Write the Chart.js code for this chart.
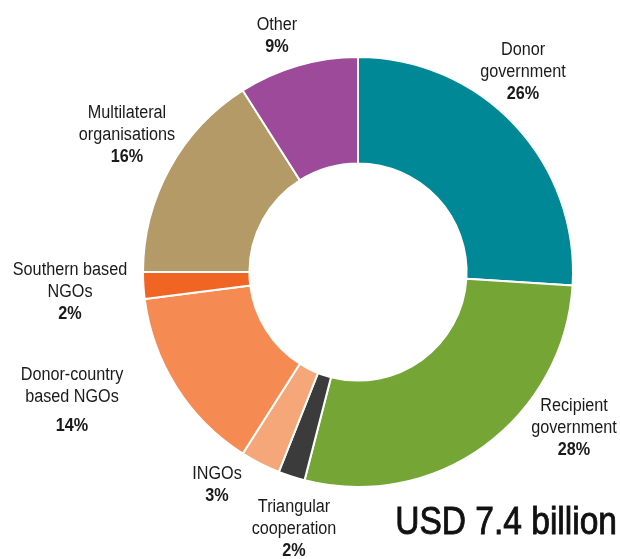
<!DOCTYPE html>
<html lang="en">
<head>
    <meta charset="UTF-8">
    <title>Funding by channel</title>
    <script src="https://cdn.jsdelivr.net/npm/chart.js"></script>
    <style>
        html, body { margin: 0; padding: 0; background: #fff; }
        #wrap { width: 620px; height: 559px; position: relative; }
    </style>
</head>
<body>
    <div id="wrap"><canvas id="chart"></canvas></div>

    <script>
        // channel shares, clockwise from 12 o'clock
        const channels = ['Donor government', 'Recipient government', 'Triangular cooperation', 'INGOs',
                          'Donor-country based NGOs', 'Southern based NGOs', 'Multilateral organisations', 'Other'];
        const shares = [26, 28, 2, 3, 14, 2, 16, 9];
        const labelLines = [['Donor', 'government'], ['Recipient', 'government'], ['Triangular', 'cooperation'], ['INGOs'],
                            ['Donor-country', 'based NGOs'], ['Southern based', 'NGOs'], ['Multilateral', 'organisations'], ['Other']];
        const totalText = 'USD 7.4 billion';

        const colours = ['#008896', '#74a535', '#3b3b3b', '#f6a77a', '#f58a53', '#f06524', '#b39a66', '#9c4a99'];
        const FONT = '"Liberation Sans", Arial, sans-serif';

        // where each label block sits, relative to the ring centre (first line centre)
        const labelOffsets = [[165, -222], [216, 134], [-64, 235], [-141, 202],
                              [-286, 103], [-288, -2], [-231, -159], [-81, -247]];

        // fake a condensed face by squeezing the glyphs horizontally
        function narrowText(ctx, text, x, y, squeeze, weight) {
            ctx.save();
            ctx.translate(x, y);
            ctx.scale(squeeze, 1);
            ctx.fillText(text, 0, 0);
            if (weight) {
                ctx.lineWidth = weight;
                ctx.strokeStyle = ctx.fillStyle;
                ctx.strokeText(text, 0, 0);
            }
            ctx.restore();
        }

        const labelPlugin = {
            id: 'ringLabels',
            afterDraw(chart) {
                const ctx = chart.ctx;
                const arc = chart.getDatasetMeta(0).data[0];
                const cx = arc.x, cy = arc.y;
                ctx.save();
                ctx.fillStyle = '#1a1a1a';
                ctx.textAlign = 'center';
                ctx.textBaseline = 'middle';
                shares.forEach((v, i) => {
                    const x = cx + labelOffsets[i][0];
                    let y = cy + labelOffsets[i][1];
                    ctx.font = '18px ' + FONT;
                    labelLines[i].forEach(line => {
                        narrowText(ctx, line, x, y, 0.9);
                        y += 22;
                    });
                    if (i === 4) y += 7;
                    ctx.font = 'bold 18px ' + FONT;
                    narrowText(ctx, v + '%', x, y, 0.9);
                });
                ctx.font = '39px ' + FONT;
                ctx.textAlign = 'right';
                ctx.textBaseline = 'alphabetic';
                ctx.fillStyle = '#111';
                narrowText(ctx, totalText, chart.width - 3, 534, 0.86, 0.9);
                ctx.restore();
            }
        };

        new Chart(document.getElementById('chart'), {
            type: 'doughnut',
            data: {
                labels: channels,
                datasets: [{
                    data: shares,
                    backgroundColor: colours,
                    borderColor: '#ffffff',
                    borderWidth: 2
                }]
            },
            options: {
                responsive: true,
                maintainAspectRatio: false,
                animation: false,
                cutout: '50.5%',
                layout: { padding: { left: 142, right: 46, top: 56, bottom: 71 } },
                plugins: {
                    legend: { display: false },
                    tooltip: { enabled: false }
                }
            },
            plugins: [labelPlugin]
        });
    </script>
</body>
</html>
